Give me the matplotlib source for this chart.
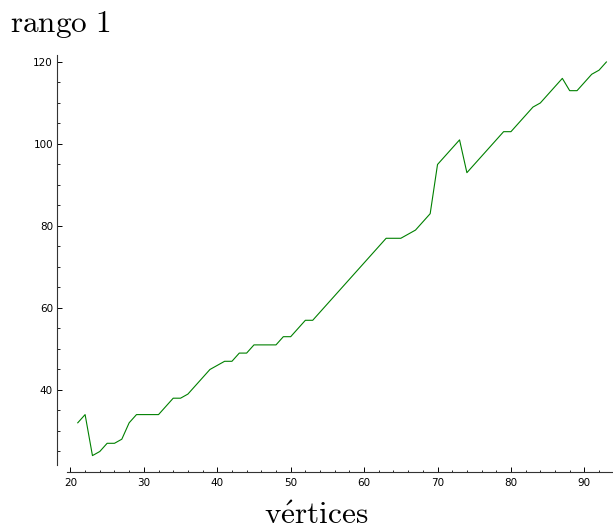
import matplotlib
matplotlib.use("Agg")
import matplotlib.pyplot as plt
from matplotlib.ticker import FixedLocator

plt.rcParams["mathtext.fontset"] = "cm"

vertices = list(range(21, 94))
rango = [32, 34, 24, 25, 27, 27, 28, 32, 34, 34,
         34, 34, 36, 38, 38, 39, 41, 43, 45, 46,
         47, 47, 49, 49, 51, 51, 51, 51, 53, 53,
         55, 57, 57, 59, 61, 63, 65, 67, 69, 71,
         73, 75, 77, 77, 77, 78, 79, 81, 83, 95,
         97, 99, 101, 93, 95, 97, 99, 101, 103, 103,
         105, 107, 109, 110, 112, 114, 116, 113, 113, 115,
         117, 118, 120]
y_ticks = [40, 60, 80, 100, 120]
x_ticks = [20, 30, 40, 50, 60, 70, 80, 90]

W, H = 613, 529
fig = plt.figure(figsize=(W / 100, H / 100), dpi=100)

# axes box in pixels
left_px, right_px, top_px, bottom_px = 55, 613, 55, 472
ax = fig.add_axes([left_px / W, 1 - bottom_px / H,
                   (right_px - left_px) / W, (bottom_px - top_px) / H])
ax.set_xlim(17.9, 93.9)
ax.set_ylim(20, 121.7)

ax.plot(vertices, rango, color="#008000", linewidth=0.8)

for side in ("top", "right"):
    ax.spines[side].set_visible(False)
ax.spines["left"].set_position(("data", 18.2))
ax.spines["left"].set_bounds(21.7, 121.7)
ax.spines["bottom"].set_bounds(19.6, 93.9)
for side in ("left", "bottom"):
    ax.spines[side].set_linewidth(0.8)
    ax.spines[side].set_color("#333333")

ax.xaxis.set_major_locator(FixedLocator(x_ticks))
ax.xaxis.set_minor_locator(FixedLocator([v for v in range(22, 94, 2) if v % 10]))
ax.yaxis.set_major_locator(FixedLocator(y_ticks))
ax.yaxis.set_minor_locator(FixedLocator([25, 30, 35, 45, 50, 55, 65, 70, 75,
                                         85, 90, 95, 105, 110, 115]))
ax.tick_params(which="major", direction="in", length=3.5, width=0.7,
               labelsize=7.5, pad=3)
ax.tick_params(which="minor", direction="in", length=1.8, width=0.6)
ax.tick_params(axis="x", which="major", pad=4)

fig.text(10 / W, 1 - 25 / H, r"$\mathrm{rango\ 1}$", fontsize=22.5,
         ha="left", va="center")
fig.text(316 / W, 1 - 515 / H, r"$\mathrm{v\acute{e}rtices}$", fontsize=22.5,
         ha="center", va="center")

fig.savefig("out.png", dpi=100)
